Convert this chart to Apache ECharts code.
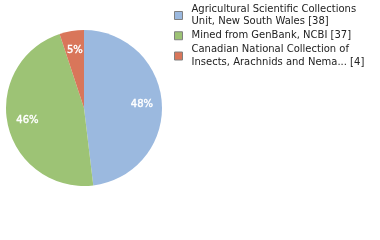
<!DOCTYPE html>
<html>
<head>
<meta charset="utf-8">
<script src="https://cdn.jsdelivr.net/npm/echarts@6/dist/echarts.min.js"></script>
<style>
  html, body { margin: 0; padding: 0; background: #fff; }
  #chart { width: 380px; height: 240px; }
</style>
</head>
<body>
<div id="chart"></div>
<script>
var categories = [
    'Agricultural Scientific Collections\nUnit, New South Wales [38]',
    'Mined from GenBank, NCBI [37]',
    'Canadian National Collection of\nInsects, Arachnids and Nema... [4]'
];
var counts = [38, 37, 4];
var colors = ['#9bb9df', '#9dc375', '#d9765a'];

var myChart = echarts.init(document.getElementById('chart'));
var total = counts.reduce(function(a, b) { return a + b; }, 0);

var pieData = [], labelData = [];
for (var i = 0; i < categories.length; i++) {
    pieData.push({ name: categories[i], value: counts[i], itemStyle: { color: colors[i] } });
    labelData.push({ name: categories[i], value: counts[i] });
}

var option = {
    animation: false,
    legend: {
        orient: 'vertical',
        left: 169,
        top: -2,
        itemWidth: 8,
        itemHeight: 8,
        itemGap: 1.5,
        icon: 'rect',
        itemStyle: { borderColor: '#808080', borderWidth: 1 },
        textStyle: {
            fontFamily: 'DejaVu Sans',
            fontSize: 10,
            lineHeight: 12.5,
            color: '#222',
            padding: [0, 0, 0, 4]
        },
        data: categories
    },
    series: [{
        type: 'pie',
        center: [84, 108],
        radius: 78,
        startAngle: 90,
        clockwise: true,
        label: { show: false },
        labelLine: { show: false },
        silent: true,
        data: pieData
    }, {
        // transparent ring so the labels sit further out than the default
        type: 'pie',
        center: [84, 108],
        radius: [32, 78],
        startAngle: 90,
        clockwise: true,
        silent: true,
        itemStyle: { color: 'transparent' },
        label: {
            show: true,
            position: 'inside',
            fontFamily: 'DejaVu Sans',
            fontSize: 10,
            color: '#fff',
            textBorderColor: '#fff',
            textBorderWidth: 0.4,
            formatter: function(p) {
                return Math.floor(p.value / total * 100) + '%';
            }
        },
        labelLine: { show: false },
        data: labelData
    }]
};
myChart.setOption(option);
</script>
</body>
</html>
